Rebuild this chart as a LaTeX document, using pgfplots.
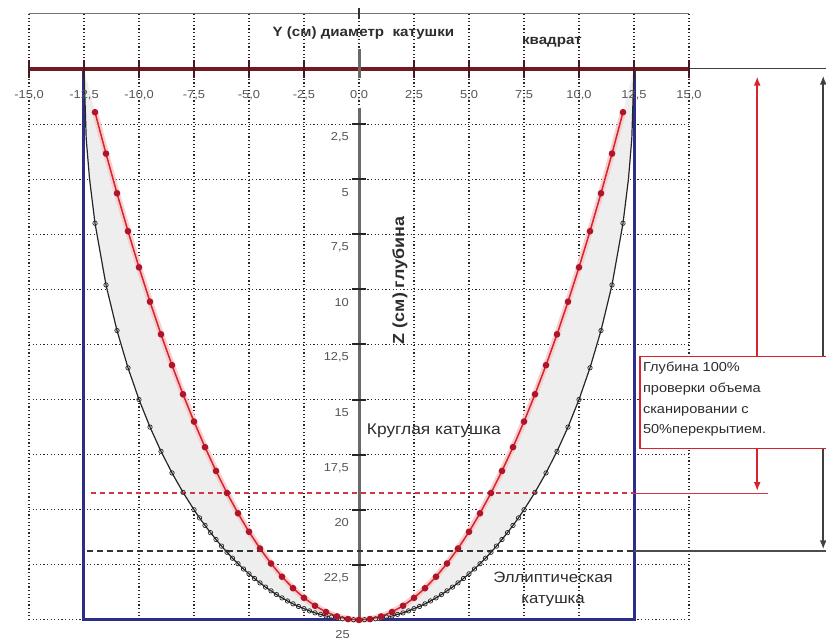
\documentclass[border=0pt]{standalone}
\usepackage{pgfplots}
\pgfplotsset{compat=1.18}
\usepackage{pgfplotstable}
\usepgfplotslibrary{fillbetween}
\usetikzlibrary{arrows.meta}
\usepackage{fontspec}
\setmainfont{Liberation Sans}[FakeStretch=1.12]

\definecolor{coilred}{RGB}{215,35,45}
\definecolor{markred}{RGB}{175,20,40}
\definecolor{dashred}{RGB}{210,55,65}
\definecolor{axisred}{RGB}{115,25,35}
\definecolor{tickdark}{RGB}{70,25,35}
\definecolor{squareblue}{RGB}{45,45,140}
\definecolor{labelgray}{RGB}{85,85,85}
\definecolor{textdark}{RGB}{45,45,45}
\definecolor{zaxisgray}{RGB}{105,105,105}

% round coil: depth profile, y (cm) vs z (cm)
\pgfplotstableread{
y z
-12 1.96
-11.5 3.84
-11 5.64
-10.5 7.36
-10 9.00
-9.5 10.56
-9 12.04
-8.5 13.44
-8 14.76
-7.5 16.00
-7 17.16
-6.5 18.24
-6 19.24
-5.5 20.16
-5 21.00
-4.5 21.76
-4 22.44
-3.5 23.04
-3 23.56
-2.5 24.00
-2 24.36
-1.5 24.64
-1 24.84
-0.5 24.96
0 25.00
0.5 24.96
1 24.84
1.5 24.64
2 24.36
2.5 24.00
3 23.56
3.5 23.04
4 22.44
4.5 21.76
5 21.00
5.5 20.16
6 19.24
6.5 18.24
7 17.16
7.5 16.00
8 14.76
8.5 13.44
9 12.04
9.5 10.56
10 9.00
10.5 7.36
11 5.64
11.5 3.84
12 1.96
}\circcoil

% elliptical coil: depth profile, y (cm) vs z (cm)
\pgfplotstableread{
y z
-12.5 0.00
-12.4 3.16
-12.25 4.97
-12 7.00
-11.5 9.80
-11 11.87
-10.5 13.56
-10 15.00
-9.5 16.25
-9 17.35
-8.5 18.33
-8 19.21
-7.5 20.00
-7.25 20.37
-7 20.71
-6.75 21.04
-6.5 21.35
-6.25 21.65
-6 21.93
-5.75 22.20
-5.5 22.45
-5.25 22.69
-5 22.91
-4.75 23.12
-4.5 23.32
-4.25 23.51
-4 23.68
-3.75 23.85
-3.5 24.00
-3.25 24.14
-3 24.27
-2.75 24.39
-2.5 24.49
-2.25 24.59
-2 24.68
-1.75 24.75
-1.5 24.82
-1.25 24.87
-1 24.92
-0.75 24.95
-0.5 24.98
-0.25 24.99
0 25.00
0.25 24.99
0.5 24.98
0.75 24.95
1 24.92
1.25 24.87
1.5 24.82
1.75 24.75
2 24.68
2.25 24.59
2.5 24.49
2.75 24.39
3 24.27
3.25 24.14
3.5 24.00
3.75 23.85
4 23.68
4.25 23.51
4.5 23.32
4.75 23.12
5 22.91
5.25 22.69
5.5 22.45
5.75 22.20
6 21.93
6.25 21.65
6.5 21.35
6.75 21.04
7 20.71
7.25 20.37
7.5 20.00
8 19.21
8.5 18.33
9 17.35
9.5 16.25
10 15.00
10.5 13.56
11 11.87
11.5 9.80
12 7.00
12.25 4.97
12.4 3.16
12.5 0.00
}\ellcoil

\begin{document}
\begin{tikzpicture}
\begin{axis}[
  scale only axis, width=660pt, height=606pt,
  xmin=-15, xmax=15, ymin=-2.5, ymax=25, y dir=reverse,
  xtick={-15,-12.5,...,15}, ytick={-2.5,0,...,25},
  xticklabels={}, yticklabels={},
  tick style={draw=none},
  axis line style={draw=none},
  grid=major,
  major grid style={black!85, line width=1.1pt, dash pattern=on 1.2pt off 2.4pt},
  clip=false,
]
% shaded band between the two coil profiles
\addplot[name path=blk, draw=none, forget plot] table {\ellcoil};
\addplot[name path=rd, draw=none, forget plot] table {\circcoil};
\addplot[gray!13, forget plot] fill between[of=blk and rd];

% square coil outline
\addplot[squareblue, line width=3pt, line join=miter] coordinates {(-12.5,0) (-12.5,25) (12.5,25) (12.5,0)};

% elliptical coil
\addplot[black!85, line width=1.2pt] table {\ellcoil};
\addplot[only marks, mark=o, mark size=2.2pt,
  mark options={black!85, fill=white, line width=0.7pt},
  skip coords between index={0}{3}, skip coords between index={82}{85}] table {\ellcoil};

% round coil
\addplot[coilred!22, line width=6pt, line join=round] table {\circcoil};
\addplot[coilred, line width=1.5pt, mark=*, mark size=2.5pt,
  mark options={fill=markred, draw=markred}] table {\circcoil};

% top border
\draw[black!55, line width=1pt] (axis cs:-15,-2.5) -- (axis cs:15,-2.5);
\draw[black!80, line width=1.8pt] (axis cs:0,-2.75) -- (axis cs:0,-2.25);

% Y axis at z = 0
\draw[axisred, line width=4pt] (axis cs:-15,0) -- (axis cs:15,0);
\draw[black!75, line width=1pt] (axis cs:15,0) -- (axis cs:21.4,0);
\pgfplotsinvokeforeach{-15,-12.5,...,15}{
  \draw[tickdark, line width=2.2pt] (axis cs:#1,-0.4) -- (axis cs:#1,0.4);
}

% Z axis at y = 0
\draw[zaxisgray, line width=3pt] (axis cs:0,-0.9) -- (axis cs:0,0.4);
\draw[zaxisgray, line width=3pt] (axis cs:0,1.75) -- (axis cs:0,25);
\pgfplotsinvokeforeach{2.5,5,...,22.5}{
  \draw[black!85, line width=2pt] (axis cs:-0.32,#1) -- (axis cs:0.32,#1);
}

% Y tick labels
\begin{scope}[every node/.style={font=\fontsize{11.5}{13}\selectfont, text=labelgray}]
\node at (axis cs:-15,1.18) {-15,0};
\node at (axis cs:-12.5,1.18) {-12,5};
\node at (axis cs:-10,1.18) {-10,0};
\node at (axis cs:-7.5,1.18) {-7,5};
\node at (axis cs:-5,1.18) {-5,0};
\node at (axis cs:-2.5,1.18) {-2,5};
\node at (axis cs:0,1.18) {0,0};
\node at (axis cs:2.5,1.18) {2,5};
\node at (axis cs:5,1.18) {5,0};
\node at (axis cs:7.5,1.18) {7,5};
\node at (axis cs:10,1.18) {10,0};
\node at (axis cs:12.5,1.18) {12,5};
\node at (axis cs:15,1.18) {15,0};
\end{scope}

% Z tick labels
\begin{scope}[every node/.style={font=\fontsize{11.5}{13}\selectfont, text=labelgray, anchor=east}]
\node at (axis cs:-0.3,3.1) {2,5};
\node at (axis cs:-0.3,5.6) {5};
\node at (axis cs:-0.3,8.1) {7,5};
\node at (axis cs:-0.3,10.6) {10};
\node at (axis cs:-0.3,13.1) {12,5};
\node at (axis cs:-0.3,15.6) {15};
\node at (axis cs:-0.3,18.1) {17,5};
\node at (axis cs:-0.3,20.6) {20};
\node at (axis cs:-0.3,23.1) {22,5};
\end{scope}
\node[font=\fontsize{11.5}{13}\selectfont, text=labelgray] at (axis cs:-0.75,25.65) {25};

% titles and captions
\node[font=\bfseries\fontsize{13.5}{15}\selectfont, text=textdark] at (axis cs:0.2,-1.64) {Y (см) диаметр\ \ катушки};
\node[font=\bfseries\fontsize{13.5}{15}\selectfont, text=textdark] at (axis cs:8.77,-1.2) {квадрат};
\node[rotate=90, font=\bfseries\fontsize{16}{18}\selectfont, text=textdark] at (axis cs:1.86,9.6) {Z (см) глубина};
\node[anchor=west, font=\fontsize{15.5}{18}\selectfont, text=textdark] at (axis cs:0.2,16.4) {Круглая катушка};
\node[font=\fontsize{15}{18}\selectfont, text=textdark] at (axis cs:8.82,23.09) {Эллиптическая};
\node[font=\fontsize{15}{18}\selectfont, text=textdark] at (axis cs:8.82,24.15) {катушка};

% depth markers
\draw[dashred, line width=1.5pt, dash pattern=on 5pt off 4pt] (axis cs:-12.2,19.25) -- (axis cs:12.5,19.25);
\draw[dashred, line width=1.4pt] (axis cs:12.5,19.25) -- (axis cs:18.6,19.25);
\draw[black!80, line width=2.2pt, dash pattern=on 6pt off 4pt] (axis cs:-12.35,21.875) -- (axis cs:12.5,21.875);
\draw[black!70, line width=1.8pt] (axis cs:12.5,21.875) -- (axis cs:21.4,21.875);

% dimension arrows
\draw[black!75, line width=1.8pt, {Latex[length=9pt,width=7pt]}-{Latex[length=9pt,width=7pt]}] (axis cs:21.1,0.3) -- (axis cs:21.1,21.8);
\draw[coilred, line width=1.5pt, {Latex[length=9pt,width=7pt]}-{Latex[length=9pt,width=7pt]}] (axis cs:18.1,0.35) -- (axis cs:18.1,19.15);

% note box
\draw[coilred, line width=1.4pt, fill=white] (axis cs:12.77,13.05) rectangle (axis cs:21.6,17.23);
\node[anchor=north west, align=left, inner sep=0pt, font=\fontsize{13}{20.7}\selectfont, text=textdark]
  at (axis cs:12.9,13.3) {Глубина 100\%\\проверки объема\\сканировании с\\50\%перекрытием.};

\coordinate (bbsw) at (axis cs:-16.318,26.0);
\coordinate (bbne) at (axis cs:21.227,-3.131);
\end{axis}
\pgfresetboundingbox
\useasboundingbox (bbsw) rectangle (bbne);
\end{tikzpicture}
\end{document}
